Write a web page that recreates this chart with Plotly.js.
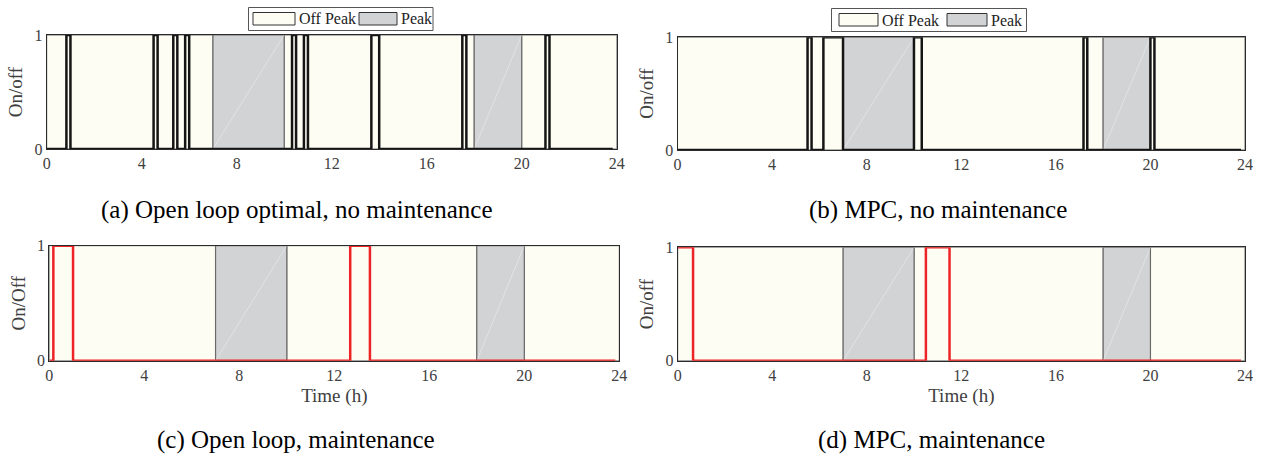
<!DOCTYPE html>
<html>
<head>
<meta charset="utf-8">
<script src="https://cdn.plot.ly/plotly-3.0.1.min.js"></script>
<style>html,body{margin:0;padding:0;background:#fff;}#chart{width:1267px;height:464px;}</style>
</head>
<body>
<div id="chart"></div>
<script>
// ---- data ----
const xTicks = [0, 4, 8, 12, 16, 20, 24];
const yTicks = [0, 1];
const offPeakStart = [0, 10, 20];
const offPeakEnd   = [7, 18, 24];
const peakStart = [7, 18];
const peakEnd   = [10, 20];
const endTime = 23.83;
// switch-on / switch-off times (h)
const aOn  = [0.83, 4.5, 5.33, 5.83, 10.33, 10.83, 13.67, 17.5, 21.0];
const aOff = [1.0, 4.67, 5.5, 6.0, 10.5, 11.0, 14.0, 17.67, 21.17];
const bOn  = [5.5, 6.17, 10.0, 17.17, 20.0];
const bOff = [5.67, 7.0, 10.33, 17.33, 20.17];
const cOn  = [0.17, 12.67];
const cOff = [1.0, 13.5];
const dOn  = [0, 10.5];
const dOff = [0.65, 11.5];
const captions = ['(a) Open loop optimal, no maintenance', '(b) MPC, no maintenance',
                  '(c) Open loop, maintenance', '(d) MPC, maintenance'];
const yTitles = ['On/off', 'On/off', 'On/Off', 'On/off'];
const legendLabels = ['Off Peak', 'Peak'];

// ---- styles ----
const FONT = 'Liberation Serif, Times New Roman, serif';
const OFF_COLOR = '#fefdf4';
const PEAK_COLOR = '#d2d3d5';
const EDGE = '#6a6a6a';
const TXT = '#404040';

function rects(starts, ends) {
  const x = [], y = [];
  for (let i = 0; i < starts.length; i++) {
    x.push(starts[i], starts[i], ends[i], ends[i], starts[i], null);
    y.push(0, 1, 1, 0, 0, null);
  }
  return {x, y};
}
function diags(starts, ends) {
  const x = [], y = [];
  for (let i = 0; i < starts.length; i++) { x.push(starts[i], ends[i], null); y.push(0, 1, null); }
  return {x, y};
}
function steps(on, off) {
  const x = [], y = [];
  if (on[0] > 0) { x.push(0); y.push(0); }
  for (let i = 0; i < on.length; i++) { x.push(on[i], off[i]); y.push(1, 0); }
  x.push(endTime); y.push(0);
  return {x, y};
}

const panels = [
  {on: aOn, off: aOff, color: '#151515', xd: [46.7, 616.7], yd: [35, 149], cap: [297, 210], xt: false, leg: [248.5, 433, 7.5, 30.5, 253, 295, 359, 397]},
  {on: bOn, off: bOff, color: '#151515', xd: [677.5, 1245], yd: [37.3, 150], cap: [938, 210], xt: false, leg: [831.5, 1026.5, 8.5, 31.5, 839, 878, 947, 987]},
  {on: cOn, off: cOff, color: '#ee2326', xd: [49.3, 619.3], yd: [245.7, 360.7], cap: [296, 440], xt: true},
  {on: dOn, off: dOff, color: '#ee2326', xd: [677.7, 1245], yd: [247.3, 360.7], cap: [931, 440], xt: true}
];

const W = 1267, H = 464;
const traces = [];
const layout = {
  width: W, height: H,
  margin: {l: 0, r: 0, t: 0, b: 0},
  paper_bgcolor: '#fff', plot_bgcolor: '#fff',
  showlegend: false,
  font: {family: FONT, color: TXT, size: 16},
  shapes: [], annotations: []
};

panels.forEach((p, i) => {
  const n = i === 0 ? '' : String(i + 1);
  const xa = 'x' + n, ya = 'y' + n;
  const off = rects(offPeakStart, offPeakEnd);
  const pk = rects(peakStart, peakEnd);
  const dg = diags(peakStart, peakEnd);
  const st = steps(p.on, p.off);
  traces.push({x: off.x, y: off.y, xaxis: xa, yaxis: ya, type: 'scatter', mode: 'lines', fill: 'toself',
               fillcolor: OFF_COLOR, line: {color: EDGE, width: 1}, name: legendLabels[0], hoverinfo: 'skip'});
  traces.push({x: pk.x, y: pk.y, xaxis: xa, yaxis: ya, type: 'scatter', mode: 'lines', fill: 'toself',
               fillcolor: PEAK_COLOR, line: {color: EDGE, width: 1.2}, name: legendLabels[1], hoverinfo: 'skip'});
  traces.push({x: dg.x, y: dg.y, xaxis: xa, yaxis: ya, type: 'scatter', mode: 'lines',
               line: {color: 'rgba(255,255,255,0.45)', width: 0.8}, hoverinfo: 'skip'});
  traces.push({x: st.x, y: st.y, xaxis: xa, yaxis: ya, type: 'scatter', mode: 'lines', cliponaxis: false,
               line: {color: p.color, width: 2.5, shape: 'hv'}, name: 'On/off'});

  layout['xaxis' + n] = {
    domain: [p.xd[0] / W, p.xd[1] / W], anchor: ya, range: [0, 24],
    tickvals: xTicks, ticktext: xTicks.map(String), showgrid: false, zeroline: false,
    showline: true, mirror: true, linecolor: '#2b2b2b', linewidth: 1, ticks: '',
    tickfont: {family: FONT, size: 16, color: TXT},
    title: p.xt ? {text: 'Time (h)', font: {family: FONT, size: 19, color: TXT}, standoff: 5} : {text: ''}
  };
  layout['yaxis' + n] = {
    domain: [1 - p.yd[1] / H, 1 - p.yd[0] / H], anchor: xa, range: [0, 1],
    tickvals: yTicks, ticktext: yTicks.map(String), showgrid: false, zeroline: false,
    showline: true, mirror: true, linecolor: '#2b2b2b', linewidth: 1, ticks: '',
    tickfont: {family: FONT, size: 16, color: TXT},
    title: {text: yTitles[i], font: {family: FONT, size: 19, color: TXT}, standoff: 6}
  };
  layout.annotations.push({text: captions[i], xref: 'paper', yref: 'paper', x: p.cap[0] / W, y: 1 - p.cap[1] / H,
    xanchor: 'center', yanchor: 'middle', showarrow: false, font: {family: FONT, size: 25, color: '#000'}});

  if (p.leg) {
    const L = p.leg;
    layout.shapes.push({type: 'rect', xref: 'paper', yref: 'paper', x0: L[0] / W, x1: L[1] / W,
      y0: 1 - L[3] / H, y1: 1 - L[2] / H, line: {color: '#555', width: 1}, fillcolor: '#fff', layer: 'above'});
    const sy0 = 1 - (L[2] + 17.5) / H, sy1 = 1 - (L[2] + 5) / H;
    layout.shapes.push({type: 'rect', xref: 'paper', yref: 'paper', x0: L[4] / W, x1: L[5] / W, y0: sy0, y1: sy1,
      line: {color: '#333', width: 1}, fillcolor: OFF_COLOR, layer: 'above'});
    layout.shapes.push({type: 'rect', xref: 'paper', yref: 'paper', x0: L[6] / W, x1: L[7] / W, y0: sy0, y1: sy1,
      line: {color: '#333', width: 1}, fillcolor: PEAK_COLOR, layer: 'above'});
    const ty = 1 - (L[2] + L[3]) / 2 / H;
    layout.annotations.push({text: legendLabels[0], xref: 'paper', yref: 'paper', x: (L[5] + 2) / W, y: ty,
      xanchor: 'left', yanchor: 'middle', showarrow: false, font: {family: FONT, size: 16, color: '#222'}});
    layout.annotations.push({text: legendLabels[1], xref: 'paper', yref: 'paper', x: (L[7] + 2) / W, y: ty,
      xanchor: 'left', yanchor: 'middle', showarrow: false, font: {family: FONT, size: 16, color: '#222'}});
  }
});

Plotly.newPlot('chart', traces, layout, {displayModeBar: false, staticPlot: true});
</script>
</body>
</html>
